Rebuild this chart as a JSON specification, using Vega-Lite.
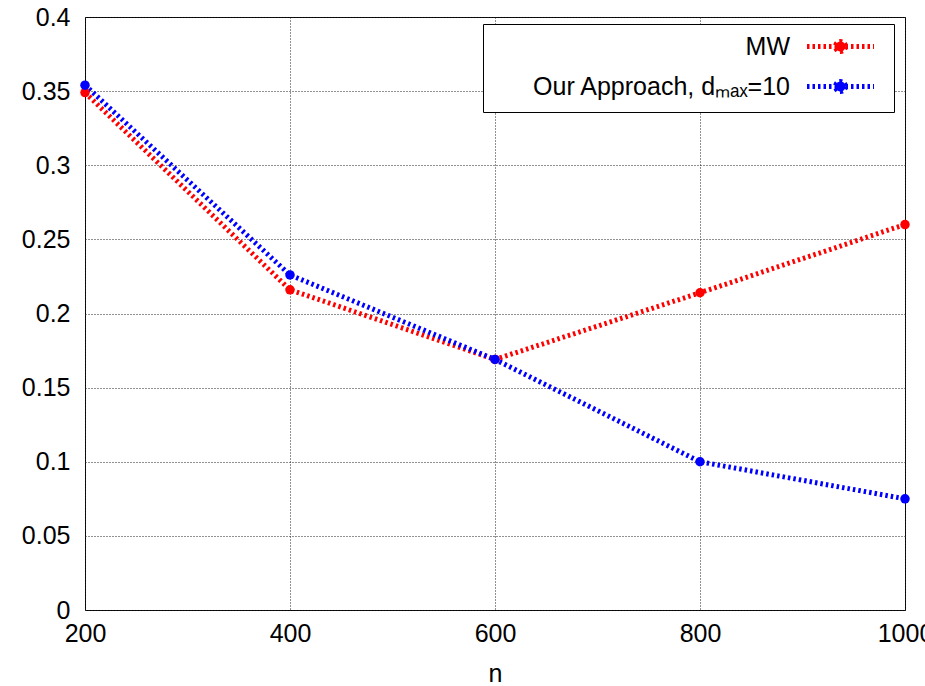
{
  "$schema": "https://vega.github.io/schema/vega-lite/v6.json",
  "width": 820,
  "height": 593,
  "autosize": "none",
  "padding": {"left": 85, "top": 17, "right": 20, "bottom": 76},
  "background": "white",
  "config": {
    "font": "Liberation Sans",
    "view": {"stroke": "black", "strokeWidth": 1},
    "axis": {
      "domain": false,
      "ticks": false,
      "grid": true,
      "gridColor": "#222222",
      "gridDash": [1, 2],
      "gridWidth": 1,
      "labelFontSize": 25,
      "labelColor": "black",
      "labelFont": "Liberation Sans",
      "titleFontSize": 25,
      "titleFontWeight": "normal",
      "titleColor": "black",
      "titleFont": "Liberation Sans"
    }
  },
  "data": {
    "values": [
      {"n": 200, "v": 0.349, "series": "MW"},
      {"n": 400, "v": 0.216, "series": "MW"},
      {"n": 600, "v": 0.169, "series": "MW"},
      {"n": 800, "v": 0.214, "series": "MW"},
      {"n": 1000, "v": 0.260, "series": "MW"},
      {"n": 200, "v": 0.354, "series": "Our Approach, dₘₐₓ=10"},
      {"n": 400, "v": 0.226, "series": "Our Approach, dₘₐₓ=10"},
      {"n": 600, "v": 0.169, "series": "Our Approach, dₘₐₓ=10"},
      {"n": 800, "v": 0.100, "series": "Our Approach, dₘₐₓ=10"},
      {"n": 1000, "v": 0.075, "series": "Our Approach, dₘₐₓ=10"}
    ]
  },
  "encoding": {
    "x": {
      "field": "n",
      "type": "quantitative",
      "scale": {"domain": [200, 1000], "nice": false, "zero": false},
      "axis": {
        "values": [200, 400, 600, 800, 1000],
        "format": "d",
        "title": "n",
        "labelPadding": 11,
        "titlePadding": 15,
        "labelFlush": false,
        "labelOverlap": false
      }
    },
    "y": {
      "field": "v",
      "type": "quantitative",
      "scale": {"domain": [0, 0.4], "nice": false},
      "axis": {
        "values": [0, 0.05, 0.1, 0.15, 0.2, 0.25, 0.3, 0.35, 0.4],
        "format": "~g",
        "title": null,
        "labelPadding": 15,
        "labelFlush": false,
        "labelOverlap": false
      }
    },
    "color": {
      "field": "series",
      "type": "nominal",
      "scale": {"domain": ["MW", "Our Approach, dₘₐₓ=10"], "range": ["#ff0000", "#0000ff"]},
      "legend": {
        "orient": "none",
        "legendX": 398,
        "legendY": 7,
        "title": null,
        "labelFontSize": 25,
        "labelColor": "black",
        "labelAlign": "right",
        "labelOffset": -63,
        "labelLimit": 400,
        "symbolOffset": 335,
        "symbolType": "M-3.35,0H3.35M0.5,0A0.5,0.5 0 1,1 -0.5,0A0.5,0.5 0 1,1 0.5,0Z",
        "symbolSize": 400,
        "symbolStrokeWidth": 5,
        "symbolDash": [2.5, 3],
        "symbolOpacity": 1,
        "fillColor": "white",
        "strokeColor": "black",
        "padding": 10,
        "rowPadding": 9
      }
    }
  },
  "layer": [
    {"mark": {"type": "line", "strokeWidth": 5, "strokeDash": [2.5, 3]}},
    {"mark": {"type": "point", "filled": true, "size": 90, "opacity": 1}}
  ]
}
